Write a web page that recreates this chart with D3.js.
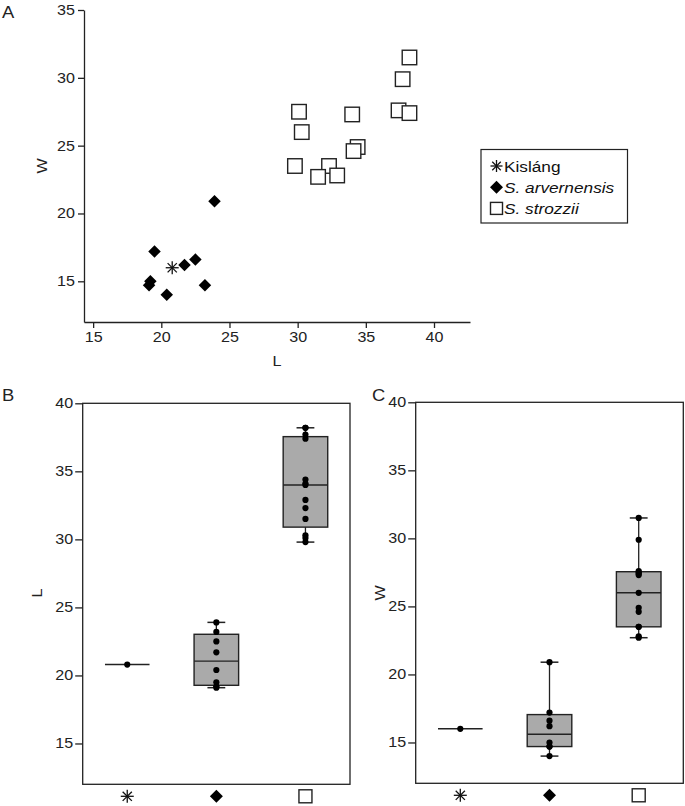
<!DOCTYPE html>
<html>
<head>
<meta charset="utf-8">
<script src="https://cdn.jsdelivr.net/npm/d3@7"></script>
<style>
  body { margin: 0; background: #fff; }
  svg { font-family: "Liberation Sans", Arial, sans-serif; }
  .tick text { font-size: 14px; fill: #222; }
  .tick line, .domain { stroke: #222; stroke-width: 1.3; }
</style>
</head>
<body>
<svg id="chart" width="685" height="806"></svg>
<script>
// groups, in legend / category order
const groups = ["Kisláng", "S. arvernensis", "S. strozzii"];
const groupSymbols = ["asterisk", "diamond", "square"];

// L and W per specimen
const kislangL = [20.8];
const kislangW = [16.0];
const arvernensisL = [23.9, 19.5, 22.5, 21.7, 19.2, 19.1, 23.2, 20.4];
const arvernensisW = [20.9, 17.2, 16.6, 16.2, 15.0, 14.7, 14.7, 14.0];
const strozziiL = [38.2, 37.7, 30.1, 34.0, 37.4, 38.2, 30.3, 34.4, 34.1, 29.8, 32.3, 31.5, 32.9];
const strozziiW = [31.5, 29.9, 27.5, 27.3, 27.6, 27.4, 26.0, 24.9, 24.6, 23.5, 23.5, 22.7, 22.8];

const xTicksA = [15, 20, 25, 30, 35, 40];
const yTicksA = [15, 20, 25, 30, 35];
const yTicksBox = [15, 20, 25, 30, 35, 40];

const lValues = [kislangL, arvernensisL, strozziiL];
const wValues = [kislangW, arvernensisW, strozziiW];

// the original's lettering is a bit wider than Arial
const SX = 1.15;

const svg = d3.select("#chart");

function addText(parent, x, y, str, size, extra) {
  return parent.append("text")
    .attr("transform", `translate(${x},${y}) ${extra || ""} scale(${SX},1)`)
    .attr("font-size", size).attr("fill", "#222").text(str);
}

// widen axis tick labels without moving their anchor
function widenTicks(axisG) {
  axisG.selectAll(".tick text").each(function () {
    const t = d3.select(this);
    const x = +t.attr("x") || 0;
    t.attr("x", x / SX).attr("transform", `scale(${SX},1)`);
  });
}

// draws one of the three marker shapes centred at 0,0
function drawSymbol(g, kind, size) {
  if (kind === "asterisk") {
    const r = size / 2;
    [0, 45, 90, 135].forEach(a => {
      g.append("line")
        .attr("x1", -r).attr("x2", r).attr("y1", 0).attr("y2", 0)
        .attr("transform", `rotate(${a})`)
        .attr("stroke", "#111").attr("stroke-width", 1.3);
    });
  } else if (kind === "diamond") {
    const s = size / Math.SQRT2;
    g.append("rect")
      .attr("x", -s / 2).attr("y", -s / 2).attr("width", s).attr("height", s)
      .attr("transform", "rotate(45)")
      .attr("fill", "#000");
  } else {
    g.append("rect")
      .attr("x", -size / 2).attr("y", -size / 2).attr("width", size).attr("height", size)
      .attr("fill", "#fff").attr("stroke", "#222").attr("stroke-width", 1.4);
  }
}

// ---------- A: scatter ----------
const xA = d3.scaleLinear().domain([14.33, 42.64]).range([84, 470]);
const yA = d3.scaleLinear().domain([12, 35]).range([322, 10]);

svg.append("g").attr("transform", "translate(0,322)")
  .call(d3.axisBottom(xA).tickValues(xTicksA).tickSize(6).tickSizeOuter(0).tickPadding(4))
  .call(widenTicks);
svg.append("g").attr("transform", "translate(84,0)")
  .call(d3.axisLeft(yA).tickValues(yTicksA).tickSize(6).tickSizeOuter(0).tickPadding(3))
  .call(widenTicks);

addText(svg, 277, 366, "L", 14).attr("text-anchor", "middle");
addText(svg, 47, 166, "W", 14, "rotate(-90)").attr("text-anchor", "middle");
addText(svg, 2, 18, "A", 16);

// draw squares first, then diamonds, then the asterisk on top
[2, 1, 0].forEach(gi => {
  const size = gi === 2 ? 14.5 : (gi === 1 ? 12.5 : 13);
  lValues[gi].forEach((l, i) => {
    const g = svg.append("g")
      .attr("transform", `translate(${xA(l)},${yA(wValues[gi][i])})`);
    drawSymbol(g, groupSymbols[gi], size);
  });
});

// legend
const legend = svg.append("g");
legend.append("rect").attr("x", 481).attr("y", 149.5).attr("width", 146.5).attr("height", 73.5)
  .attr("fill", "#fff").attr("stroke", "#222").attr("stroke-width", 1.2);
groups.forEach((name, i) => {
  const cy = 166 + i * 21.2;
  const g = legend.append("g").attr("transform", `translate(496.5,${cy})`);
  drawSymbol(g, groupSymbols[i], i === 1 ? 13 : 12);
  addText(legend, 504, cy + 5.5, name, 15)
    .attr("fill", "#111")
    .attr("font-style", i === 0 ? "normal" : "italic");
});

// ---------- B and C: box plots ----------
// percentile with the (n+1)p rule
function quantile(sorted, p) {
  const n = sorted.length;
  const pos = p * (n + 1);
  const k = Math.floor(pos);
  if (k < 1) return sorted[0];
  if (k >= n) return sorted[n - 1];
  return sorted[k - 1] + (pos - k) * (sorted[k] - sorted[k - 1]);
}

function boxPanel(opts) {
  const { left, right, top, bottom, values, label, labelX, tag, tagX } = opts;
  const y = d3.scaleLinear().domain([12, 40]).range([bottom, top]);
  const x = d3.scaleBand().domain(groups).range([left, right]).padding(0);
  const g = svg.append("g");

  g.append("rect").attr("x", left).attr("y", top)
    .attr("width", right - left).attr("height", bottom - top)
    .attr("fill", "none").attr("stroke", "#222").attr("stroke-width", 1.3);

  g.append("g").attr("transform", `translate(${left},0)`)
    .call(d3.axisLeft(y).tickValues(yTicksBox).tickSize(7.5).tickSizeOuter(0).tickPadding(2))
    .call(a => a.select(".domain").remove())
    .call(widenTicks);

  addText(g, labelX, 593, label, 14, "rotate(-90)").attr("text-anchor", "middle");
  addText(g, tagX, 401, tag, 16);

  const bw = x.bandwidth();
  groups.forEach((name, gi) => {
    const cx = x(name) + bw / 2;
    const vals = values[gi].slice().sort((a, b) => a - b);
    const boxW = bw * 0.5;
    const capW = bw * 0.2;
    if (vals.length === 1) {
      g.append("line").attr("x1", cx - boxW / 2).attr("x2", cx + boxW / 2)
        .attr("y1", y(vals[0])).attr("y2", y(vals[0]))
        .attr("stroke", "#222").attr("stroke-width", 1.5);
    } else {
      const q1 = quantile(vals, 0.25), med = d3.median(vals), q3 = quantile(vals, 0.75);
      const lo = vals[0], hi = vals[vals.length - 1];
      g.append("line").attr("x1", cx).attr("x2", cx).attr("y1", y(hi)).attr("y2", y(lo))
        .attr("stroke", "#222").attr("stroke-width", 1.3);
      [lo, hi].forEach(v => {
        g.append("line").attr("x1", cx - capW / 2).attr("x2", cx + capW / 2)
          .attr("y1", y(v)).attr("y2", y(v))
          .attr("stroke", "#222").attr("stroke-width", 1.5);
      });
      g.append("rect").attr("x", cx - boxW / 2).attr("y", y(q3))
        .attr("width", boxW).attr("height", y(q1) - y(q3))
        .attr("fill", "#aaaaaa").attr("stroke", "#222").attr("stroke-width", 1.4);
      g.append("line").attr("x1", cx - boxW / 2).attr("x2", cx + boxW / 2)
        .attr("y1", y(med)).attr("y2", y(med))
        .attr("stroke", "#222").attr("stroke-width", 1.4);
    }
    vals.forEach(v => {
      g.append("circle").attr("cx", cx).attr("cy", y(v)).attr("r", 3.1).attr("fill", "#000");
    });
    const sg = g.append("g").attr("transform", `translate(${cx},${bottom + 12})`);
    drawSymbol(sg, groupSymbols[gi], 13);
  });
}

boxPanel({ left: 82.7, right: 350, top: 403.3, bottom: 784.3, values: lValues,
  label: "L", labelX: 42, tag: "B", tagX: 2 });
boxPanel({ left: 415.7, right: 683.3, top: 402.3, bottom: 783.3, values: wValues,
  label: "W", labelX: 385, tag: "C", tagX: 372 });
</script>
</body>
</html>
